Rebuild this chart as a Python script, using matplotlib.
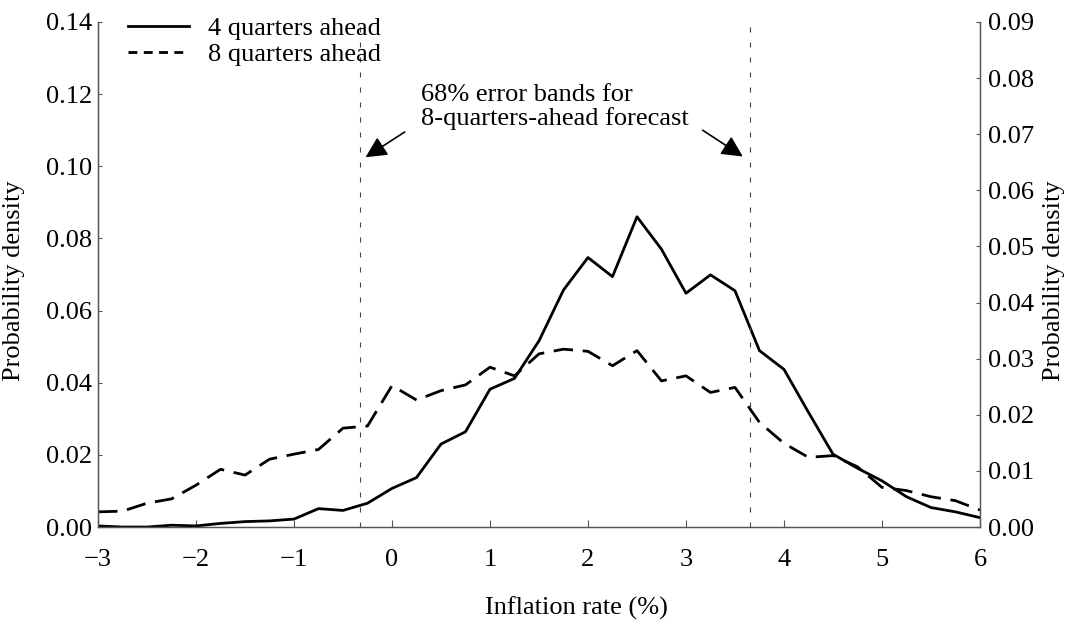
import numpy as np
import matplotlib.pyplot as plt
from matplotlib.lines import Line2D

plt.rcParams['font.family'] = ['Liberation Serif', 'DejaVu Serif']

# inflation grid (%)
infl = [-3.0, -2.75, -2.5, -2.25, -2.0, -1.75, -1.5, -1.25, -1.0, -0.75, -0.5, -0.25,
        0.0, 0.25, 0.5, 0.75, 1.0, 1.25, 1.5, 1.75, 2.0, 2.25, 2.5, 2.75,
        3.0, 3.25, 3.5, 3.75, 4.0, 4.25, 4.5, 4.75, 5.0, 5.25, 5.5, 5.75, 6.0]

dens4 = [0.0003, 0.0000, 0.0000, 0.0005, 0.0003, 0.0010, 0.0015, 0.0017, 0.0022, 0.0051, 0.0046, 0.0066,
         0.0107, 0.0137, 0.0230, 0.0264, 0.0382, 0.0412, 0.0516, 0.0657, 0.0747, 0.0694, 0.0860, 0.0770,
         0.0648, 0.0699, 0.0655, 0.0489, 0.0437, 0.0318, 0.0202, 0.0163, 0.0128, 0.0084, 0.0054, 0.0042, 0.0026]

dens8 = [0.0042, 0.0044, 0.0066, 0.0078, 0.0116, 0.0160, 0.0144, 0.0188, 0.0202, 0.0215, 0.0274, 0.0280,
         0.0392, 0.0352, 0.0378, 0.0394, 0.0443, 0.0419, 0.0480, 0.0493, 0.0487, 0.0447, 0.0489, 0.0405,
         0.0419, 0.0373, 0.0387, 0.0290, 0.0232, 0.0193, 0.0198, 0.0167, 0.0110, 0.0101, 0.0084, 0.0073, 0.0047]

band = [-0.33, 3.65]  # 68% error band, 8 quarters ahead

fs = 19
spc = '#555555'

fig = plt.figure(figsize=(10.69, 6.22), dpi=100)
ax = fig.add_axes([0.0917, 0.1527, 0.825, 0.812])

ax.plot(infl, dens4, 'k-', lw=2.0)
ax.plot(infl, dens8, 'k--', lw=2.0, dashes=(7, 3.5))
for b in band:
    ax.axvline(b, color='#444444', lw=0.8, ls=(0, (4.5, 9)))

ax.set_xlim(-3, 6)
ax.set_ylim(0, 0.14)
ax.set_xticks(range(-3, 7))
ax.set_xticklabels([str(v).replace('-', '\u2212') for v in range(-3, 7)])
ax.set_yticks(np.arange(0, 0.141, 0.02))
ax.set_yticklabels(['%.2f' % v for v in np.arange(0, 0.141, 0.02)])
ax.tick_params(axis='x', direction='in', length=5, width=0.8, color=spc, labelsize=fs, pad=16)
ax.tick_params(axis='y', direction='in', length=3, width=0.8, color=spc, labelsize=fs, pad=4.5)
ax.spines['top'].set_visible(False)
for s in ['left', 'right', 'bottom']:
    ax.spines[s].set_color(spc)
    ax.spines[s].set_linewidth(1.0)
ax.set_xlabel('Inflation rate (%)', fontsize=fs)
ax.xaxis.set_label_coords(0.543, -0.138)
ax.set_ylabel('Probability density', fontsize=fs)
ax.yaxis.set_label_coords(-0.083, 0.487)

ax2 = ax.twinx()
ax2.set_ylim(0, 0.09)
ax2.set_yticks(np.arange(0, 0.091, 0.01))
ax2.set_yticklabels(['%.2f' % v for v in np.arange(0, 0.091, 0.01)])
ax2.tick_params(direction='in', length=3, width=0.8, color=spc, labelsize=fs, pad=5.5)
ax2.spines['top'].set_visible(False)
for s in ['left', 'right', 'bottom']:
    ax2.spines[s].set_color(spc)
ax2.set_ylabel('Probability density', fontsize=fs)
ax2.yaxis.set_label_coords(1.071, 0.487)

# legend handles: the dashed one uses short dashes like the original
h4 = Line2D([], [], color='k', lw=2.0)
h8 = Line2D([], [], color='k', lw=2.0, ls=(0, (3.2, 2.3)))
ax.legend([h4, h8], ['4 quarters ahead', '8 quarters ahead'], loc='upper left',
          frameon=False, fontsize=fs, handlelength=2.3, handletextpad=0.75,
          borderaxespad=0.0, labelspacing=0.1, bbox_to_anchor=(0.022, 1.031))

ax.text(0.30, 0.1165, '68% error bands for\n8-quarters-ahead forecast',
        fontsize=fs, ha='left', va='center', linespacing=1.05)
arr = dict(arrowstyle='-|>', color='k', lw=1.2, mutation_scale=32, shrinkA=0, shrinkB=0)
ax.annotate('', xy=(-0.27, 0.1025), xytext=(0.13, 0.1095), arrowprops=arr)
ax.annotate('', xy=(3.58, 0.1027), xytext=(3.17, 0.1100), arrowprops=arr)

fig.savefig('out.png', dpi=100)
